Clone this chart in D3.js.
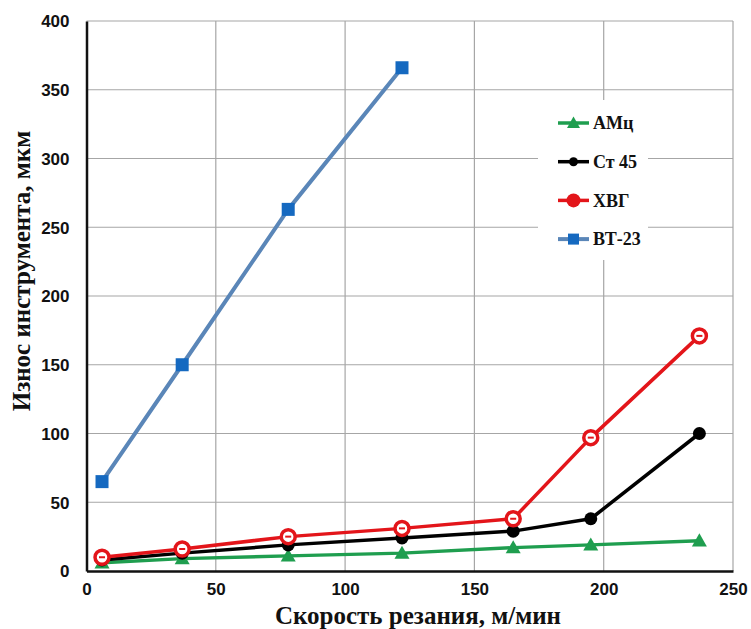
<!DOCTYPE html>
<html>
<head>
<meta charset="utf-8">
<script src="https://cdn.jsdelivr.net/npm/d3@7"></script>
<style>
  body { margin: 0; background: #fff; }
  svg { display: block; }
</style>
</head>
<body>
<svg id="chart" width="751" height="629"></svg>
<script>
// cutting speed, m/min
const speed = [6, 37, 78, 122, 165, 195, 237];

// tool wear, um
const amc = [6, 9, 11, 13, 17, 19, 22];
const st45 = [8, 13, 19, 24, 29, 38, 100];
const hvg = [10, 16, 25, 31, 38, 97, 171];
const vt23 = [65, 150, 263, 366];

const xTicks = [0, 50, 100, 150, 200, 250];
const yTicks = [0, 50, 100, 150, 200, 250, 300, 350, 400];

const seriesNames = ["АМц", "Ст 45", "ХВГ", "ВТ-23"];

const svg = d3.select("#chart");

const margin = { left: 86.5, right: 18, top: 21, bottom: 58 };
const width = +svg.attr("width"),
    height = +svg.attr("height");

const x = d3.scaleLinear().domain([0, 250]).range([margin.left, width - margin.right]);
const y = d3.scaleLinear().domain([0, 400]).range([height - margin.bottom, margin.top]);

const series = [
    { name: seriesNames[0], values: amc, line: "#1f9e4f", fill: "#1f9e4f", marker: "triangle", lw: 3.5 },
    { name: seriesNames[1], values: st45, line: "#000", fill: "#000", marker: "dot", lw: 3.5 },
    { name: seriesNames[2], values: hvg, line: "#e3151a", fill: "#e3151a", marker: "ring", lw: 3.5 },
    { name: seriesNames[3], values: vt23, line: "#5a86b8", fill: "#1569c0", marker: "square", lw: 4 }
];

// grid
const grid = svg.append("g").attr("stroke", "#a6a6a6").attr("stroke-width", 1.2);
grid.selectAll("line.h")
    .data(yTicks.slice(1))
    .join("line")
    .attr("x1", x(0)).attr("x2", x(250))
    .attr("y1", d => y(d)).attr("y2", d => y(d));
grid.selectAll("line.v")
    .data(xTicks.slice(1))
    .join("line")
    .attr("y1", y(0)).attr("y2", y(400))
    .attr("x1", d => x(d)).attr("x2", d => x(d));

// legend background hides the grid behind it
svg.append("rect")
    .attr("x", 538).attr("y", 100)
    .attr("width", 110).attr("height", 160)
    .attr("fill", "#fff");

// axes
const xAxis = svg.append("g")
    .attr("transform", `translate(0,${y(0)})`)
    .call(d3.axisBottom(x).tickValues(xTicks).tickSize(0).tickPadding(12));
const yAxis = svg.append("g")
    .attr("transform", `translate(${x(0)},0)`)
    .call(d3.axisLeft(y).tickValues(yTicks).tickSize(0).tickPadding(17));

[xAxis, yAxis].forEach(g => {
    g.select(".domain").attr("stroke", "#111").attr("stroke-width", 2.5);
    g.selectAll("text")
        .attr("font-family", "'Liberation Sans', Arial, sans-serif")
        .attr("font-weight", "bold")
        .attr("font-size", 17)
        .attr("fill", "#111");
});
yAxis.selectAll("text").attr("dy", "0.35em");

// lines and markers
const line = d3.line()
    .x(d => x(d[0]))
    .y(d => y(d[1]));

function drawMarker(g, type, cx, cy, fill, small) {
    if (type === "triangle") {
        const r = small ? 6.5 : 7.5;
        g.append("path")
            .attr("d", `M${cx},${cy - r}L${cx + r},${cy + r * 0.75}L${cx - r},${cy + r * 0.75}Z`)
            .attr("fill", fill);
    } else if (type === "dot") {
        g.append("circle").attr("cx", cx).attr("cy", cy).attr("r", small ? 4.5 : 6.5).attr("fill", fill);
    } else if (type === "ring") {
        if (small) {
            g.append("circle").attr("cx", cx).attr("cy", cy).attr("r", 7).attr("fill", fill);
        } else {
            g.append("circle").attr("cx", cx).attr("cy", cy).attr("r", 7)
                .attr("fill", "#fff").attr("stroke", fill).attr("stroke-width", 3.5);
            g.append("rect").attr("x", cx - 3).attr("y", cy - 1).attr("width", 6).attr("height", 2)
                .attr("fill", fill);
        }
    } else if (type === "square") {
        const h = small ? 5.5 : 6.5;
        g.append("rect").attr("x", cx - h).attr("y", cy - h)
            .attr("width", 2 * h).attr("height", 2 * h).attr("fill", fill);
    }
}

series.forEach(s => {
    const pts = s.values.map((v, i) => [speed[i], v]);
    svg.append("path")
        .datum(pts)
        .attr("d", line)
        .attr("fill", "none")
        .attr("stroke", s.line)
        .attr("stroke-width", s.lw)
        .attr("stroke-linejoin", "round");
    const mg = svg.append("g");
    pts.forEach(p => drawMarker(mg, s.marker, x(p[0]), y(p[1]), s.fill, false));
});

// legend
const legend = svg.append("g").attr("transform", "translate(558,123)");
series.forEach((s, i) => {
    const g = legend.append("g").attr("transform", `translate(0,${i * 38.7})`);
    g.append("line")
        .attr("x1", 0).attr("x2", 31)
        .attr("stroke", s.line).attr("stroke-width", s.lw);
    drawMarker(g, s.marker, 15.5, 0, s.fill, true);
    g.append("text")
        .attr("x", 35).attr("dy", "0.35em")
        .attr("font-family", "'Liberation Serif', 'Times New Roman', serif")
        .attr("font-weight", "bold")
        .attr("font-size", 18)
        .attr("fill", "#111")
        .text(s.name);
});

// axis titles
svg.append("text")
    .attr("x", 418)
    .attr("y", 624)
    .attr("text-anchor", "middle")
    .attr("font-family", "'Liberation Serif', 'Times New Roman', serif")
    .attr("font-weight", "bold")
    .attr("font-size", 25)
    .attr("fill", "#111")
    .text("Скорость резания, м/мин");

svg.append("text")
    .attr("transform", "translate(30,271) rotate(-90)")
    .attr("text-anchor", "middle")
    .attr("font-family", "'Liberation Serif', 'Times New Roman', serif")
    .attr("font-weight", "bold")
    .attr("font-size", 25)
    .attr("fill", "#111")
    .text("Износ инструмента, мкм");
</script>
</body>
</html>
